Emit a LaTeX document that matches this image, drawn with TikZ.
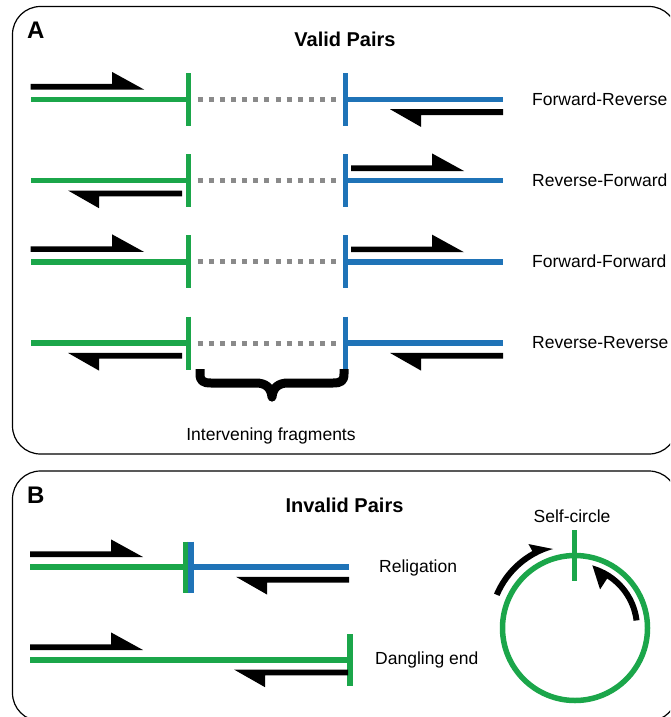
\documentclass[tikz,border=0pt]{standalone}
\usepackage{fontspec}
\setmainfont{Liberation Sans}
\definecolor{dnagreen}{HTML}{1BA64A}
\definecolor{dnablue}{HTML}{1F73B7}
\definecolor{gapgray}{HTML}{8A8A8A}

\tikzset{
  strand/.style={line width=5.5pt},
  greenstrand/.style={strand, draw=dnagreen},
  bluestrand/.style={strand, draw=dnablue},
  gapdots/.style={line width=5pt, draw=gapgray, dash pattern=on 5pt off 6.13pt},
  frame/.style={draw=black, line width=1.2pt, rounded corners=28pt},
  lbl/.style={font=\fontsize{17.5}{20}\selectfont, inner sep=0pt},
  ttl/.style={font=\bfseries\fontsize{20}{24}\selectfont, inner sep=0pt},
  panel/.style={font=\bfseries\fontsize{24}{28}\selectfont, inner sep=0pt},
  bracestyle/.style={line width=9pt, line join=round},
}

% half-arrow reads: #1 left x, #2 right x, #3 y of the edge facing the strand
\newcommand\fwdread[3]{\fill (#1,#3) -- (#1,{#3-5.6}) -- ({#2-32},{#3-5.6}) -- ({#2-32},{#3-17.6}) -- (#2,#3) -- cycle;}
\newcommand\revread[3]{\fill (#2,#3) -- (#2,{#3+5.8}) -- ({#1+31},{#3+5.8}) -- ({#1+31},{#3+17.7}) -- (#1,#3) -- cycle;}

% skeleton of one valid pair: green fragment, gap, blue fragment
\newcommand\pairskel[1]{%
  \draw[greenstrand] (31,#1) -- (188.7,#1);
  \draw[greenstrand] (188.7,{#1-26.5}) -- (188.7,{#1+26.5});
  \draw[gapdots] (197.7,#1) -- (336.5,#1);
  \draw[bluestrand] (345.5,#1) -- (503,#1);
  \draw[bluestrand] (345.5,{#1-26.5}) -- (345.5,{#1+26.5});
}

\begin{document}
\begin{tikzpicture}[x=1pt,y=-1pt]
\useasboundingbox (0,0) rectangle (670,717);
\begin{scope}
  \clip (0,0) rectangle (670,717);
  \draw[frame] (12.5,6.5) rectangle (677,454);
  \draw[frame] (12.5,471) rectangle (677,721);
\end{scope}

% ---- panel A: valid pairs ----
\node[panel, anchor=base west] (panA) at (27,38) {A};
\node[ttl, anchor=base] (validttl) at (345,47) {Valid Pairs};

\pairskel{99.5}
\fwdread{30.7}{144}{89.5}
\revread{390}{503}{109.2}
\node[lbl, anchor=base west] (lblFR) at (532,105.2) {Forward-Reverse};

\pairskel{180.7}
\revread{68}{182}{190.5}
\fwdread{351}{464}{171}
\node[lbl, anchor=base west] (lblRF) at (532,186.4) {Reverse-Forward};

\pairskel{261.9}
\fwdread{30.7}{144}{251.9}
\fwdread{351}{464}{252.2}
\node[lbl, anchor=base west] (lblFF) at (532,267.6) {Forward-Forward};

\pairskel{343.1}
\revread{68}{182}{352.9}
\revread{390}{503}{352.9}
\node[lbl, anchor=base west] (lblRR) at (532,348.8) {Reverse-Reverse};

% brace under the intervening fragments
\draw[bracestyle] (200,369) -- (200,374) .. controls (200,381) and (203,383) .. (211,383)
  -- (256,383) .. controls (265,383) and (271,387) .. (272,397)
  .. controls (273,387) and (279,383) .. (288,383)
  -- (333,383) .. controls (341,383) and (344,381) .. (344,374) -- (344,369);
\fill (267,388) -- (277,388) -- (272,402) -- cycle;
\node[lbl, anchor=base] (lblgap) at (271,440) {Intervening fragments};

% ---- panel B: invalid pairs ----
\node[panel, anchor=base west] (panB) at (27,503) {B};
\node[ttl, anchor=base] (invalidttl) at (344.5,512) {Invalid Pairs};

% religation
\draw[greenstrand] (30,567) -- (185.5,567);
\draw[bluestrand] (191.2,567) -- (349,567);
\draw[line width=5.6pt, dnagreen] (185.5,541.7) -- (185.5,592.7);
\draw[line width=5.6pt, dnablue] (191.2,541.7) -- (191.2,592.7);
\fwdread{30}{143}{557}
\revread{236}{349}{576.8}
\node[lbl, anchor=base west] (lblrelig) at (379,572) {Religation};

% dangling end
\draw[greenstrand] (30,660) -- (350,660);
\draw[greenstrand] (350,634) -- (350,686);
\fwdread{30}{143}{650}
\revread{234}{348}{669.5}
\node[lbl, anchor=base west] (lbldangle) at (375,664) {Dangling end};

% self-circle
\coordinate (cc) at (575,628);
\draw[line width=5.5pt, dnagreen] (cc) circle[radius=72.5];
\draw[greenstrand] (574.5,530) -- (574.5,581);
\node[lbl, anchor=base] (lblself) at (572,522) {Self-circle};

% read on the outside, running clockwise towards the junction
\fill ({575+88*cos(157)},{628-88*sin(157)})
  arc[start angle=-157, end angle=-119, radius=88]
  -- ({575+96*cos(119)},{628-96*sin(119)})
  -- ({575+82*cos(105.5)},{628-82*sin(105.5)})
  arc[start angle=-105.5, end angle=-157, radius=82] -- cycle;
% read on the inside, running anticlockwise towards the junction
\fill ({575+59*cos(7)},{628-59*sin(7)})
  arc[start angle=-7, end angle=-57, radius=59]
  -- ({575+46*cos(57)},{628-46*sin(57)})
  -- ({575+65*cos(74.5)},{628-65*sin(74.5)})
  arc[start angle=-74.5, end angle=-7, radius=65] -- cycle;
\end{tikzpicture}
\end{document}
